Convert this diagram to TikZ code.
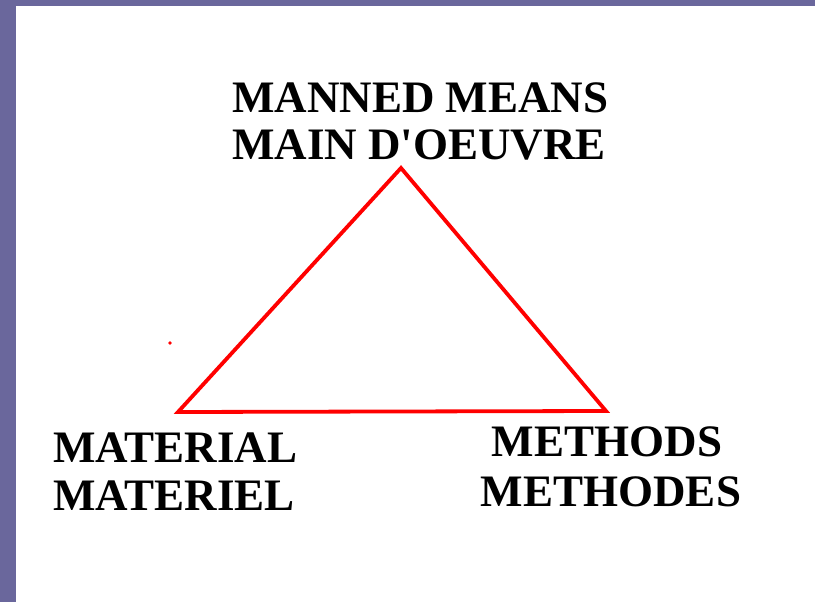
\documentclass[tikz,border=0pt]{standalone}
\usepackage{fontspec}
\newfontfamily\lblfont{Liberation Serif}[Ligatures=TeXOff]
\usetikzlibrary{positioning}
\definecolor{frame}{RGB}{106,103,156}
\definecolor{edge}{RGB}{255,0,0}

\begin{document}
\begin{tikzpicture}[
  x=1pt, y=-1pt,
  lbl/.style={inner sep=0pt, align=left, font=\lblfont\bfseries\fontsize{45}{48}\selectfont},
  side/.style={draw=edge, line width=3.8pt}
]
\useasboundingbox (0,0) rectangle (815,602);
\fill[frame] (0,0) rectangle (815,602);
\fill[white] (16,6) rectangle (815,602);

\coordinate (apex) at (401,168);
\coordinate (left) at (178,412);
\coordinate (right) at (606,411);

\node[lbl, anchor=base west] (manned) at (232,113) {MANNED MEANS};
\node[lbl, anchor=base west] (oeuvre) at (232,160) {MAIN D'OEUVRE};
\node[lbl, anchor=base west] (material) at (53,462) {MATERIAL};
\node[lbl, anchor=base west] (materiel) at (53,510) {MATERIEL};
\node[lbl, anchor=base] (methods) at (607,456) {METHODS};
\node[lbl, anchor=base] (methodes) at (611,506) {METHODES};

\draw[side] (apex) -- (right) -- (left) -- cycle;
\fill[edge] (170,343) circle (1.8);
\end{tikzpicture}
\end{document}
